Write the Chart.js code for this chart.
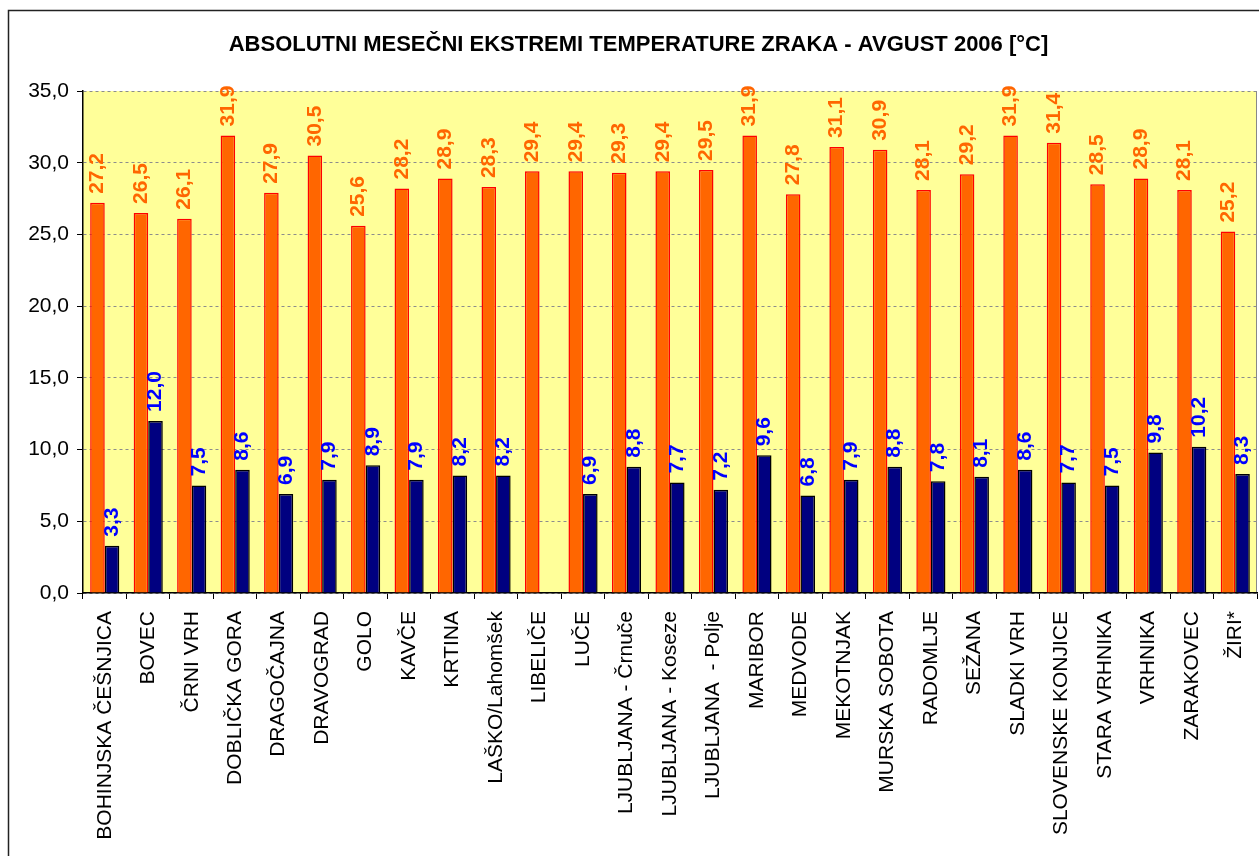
<!DOCTYPE html>
<html>
<head>
<meta charset="utf-8">
<script src="https://cdn.jsdelivr.net/npm/chart.js@4.4.1/dist/chart.umd.min.js"></script>
<style>
  html, body { margin: 0; padding: 0; background: #fff; }
  #wrap { width: 1259px; height: 856px; }
</style>
</head>
<body>
<div id="wrap"><canvas id="chart" width="1259" height="856"></canvas></div>
<script>
const stations = [
  'BOHINJSKA ČEŠNJICA', 'BOVEC', 'ČRNI VRH', 'DOBLIČKA GORA', 'DRAGOČAJNA',
  'DRAVOGRAD', 'GOLO', 'KAVČE', 'KRTINA', 'LAŠKO/Lahomšek', 'LIBELIČE', 'LUČE',
  'LJUBLJANA - Črnuče', 'LJUBLJANA - Koseze', 'LJUBLJANA  - Polje', 'MARIBOR',
  'MEDVODE', 'MEKOTNJAK', 'MURSKA SOBOTA', 'RADOMLJE', 'SEŽANA', 'SLADKI VRH',
  'SLOVENSKE KONJICE', 'STARA VRHNIKA', 'VRHNIKA', 'ZARAKOVEC', 'ŽIRI*'
];
const maxTemp = [
  27.2, 26.5, 26.1, 31.9, 27.9, 30.5, 25.6, 28.2, 28.9, 28.3, 29.4, 29.4, 29.3, 29.4,
  29.5, 31.9, 27.8, 31.1, 30.9, 28.1, 29.2, 31.9, 31.4, 28.5, 28.9, 28.1, 25.2
];
const minTemp = [
  3.3, 12.0, 7.5, 8.6, 6.9, 7.9, 8.9, 7.9, 8.2, 8.2, null, 6.9, 8.8, 7.7,
  7.2, 9.6, 6.8, 7.9, 8.8, 7.8, 8.1, 8.6, 7.7, 7.5, 9.8, 10.2, 8.3
];

const fmt = v => v.toFixed(1).replace('.', ',');

// white page, outer frame (cut off at right/bottom like the original) and yellow plot area
const framePlugin = {
  id: 'frame',
  beforeDraw(chart) {
    const { ctx, chartArea: a } = chart;
    ctx.save();
    ctx.fillStyle = '#fff';
    ctx.fillRect(0, 0, chart.width, chart.height);
    ctx.strokeStyle = '#222';
    ctx.lineWidth = 1.5;
    ctx.strokeRect(8.5, 10.5, chart.width + 20, chart.height + 20);
    ctx.fillStyle = '#FFFF99';
    ctx.fillRect(a.left, a.top, a.right - a.left, a.bottom - a.top);
    ctx.strokeStyle = '#888';
    ctx.lineWidth = 1;
    ctx.beginPath();
    ctx.moveTo(a.right - 0.5, a.top);
    ctx.lineTo(a.right - 0.5, a.bottom);
    ctx.stroke();
    ctx.restore();
  }
};

// vertical value labels above each bar
const valueLabels = {
  id: 'valueLabels',
  afterDatasetsDraw(chart) {
    const ctx = chart.ctx;
    chart.data.datasets.forEach((ds, i) => {
      const meta = chart.getDatasetMeta(i);
      meta.data.forEach((bar, j) => {
        const v = ds.data[j];
        if (v == null) return;
        ctx.save();
        ctx.translate(bar.x, bar.y - 9);
        ctx.rotate(-Math.PI / 2);
        ctx.font = 'bold 21px "Liberation Sans", Arial, sans-serif';
        ctx.fillStyle = ds.labelColor;
        ctx.textAlign = 'left';
        ctx.textBaseline = 'middle';
        ctx.fillText(fmt(v), 0, 0);
        ctx.restore();
      });
    });
  }
};

new Chart(document.getElementById('chart'), {
  type: 'bar',
  data: {
    labels: stations,
    datasets: [
      {
        label: 'max',
        data: maxTemp,
        backgroundColor: '#FF6600',
        borderColor: '#FF0000',
        borderWidth: 1.5,
        labelColor: '#FF6600',
      },
      {
        label: 'min',
        data: minTemp,
        backgroundColor: '#000080',
        borderColor: '#000000',
        borderWidth: 1.5,
        labelColor: '#0000FF',
      },
    ],
  },
  options: {
    responsive: false,
    animation: false,
    layout: { padding: { left: 20, right: 2, top: 0, bottom: 0 } },
    plugins: {
      legend: { display: false },
      tooltip: { enabled: false },
      title: {
        display: true,
        text: 'ABSOLUTNI MESEČNI EKSTREMI TEMPERATURE ZRAKA - AVGUST 2006 [°C]',
        color: '#000',
        font: { family: '"Liberation Sans", Arial, sans-serif', size: 22, weight: 'bold', lineHeight: 1.2 },
        padding: { top: 32, bottom: 32.6 },
      },
    },
    datasets: {
      bar: { categoryPercentage: 0.67, barPercentage: 1.0 },
    },
    scales: {
      x: {
        grid: {
          offset: true,
          drawOnChartArea: false,
          tickLength: 6,
          tickColor: '#000',
        },
        border: { color: '#000', width: 1.5 },
        ticks: {
          autoSkip: false,
          minRotation: 90,
          maxRotation: 90,
          padding: 12,
          color: '#000',
          font: { family: '"Liberation Sans", Arial, sans-serif', size: 21 },
        },
        afterFit(scale) {
          scale.height = 263;
          scale.paddingLeft = 0;
          scale.paddingRight = 0;
        },
      },
      y: {
        min: 0,
        max: 35,
        grid: {
          color: '#8c8c8c',
          lineWidth: 1,
          tickLength: 6,
          tickColor: '#000',
          tickBorderDash: [],
        },
        border: { color: '#000', width: 1.5, dash: [3, 3] },
        ticks: {
          stepSize: 5,
          padding: 8,
          color: '#000',
          font: { family: '"Liberation Sans", Arial, sans-serif', size: 21 },
          callback: v => fmt(v),
        },
        afterFit(scale) { scale.width = 63; },
      },
    },
  },
  plugins: [framePlugin, valueLabels],
});
</script>
</body>
</html>
